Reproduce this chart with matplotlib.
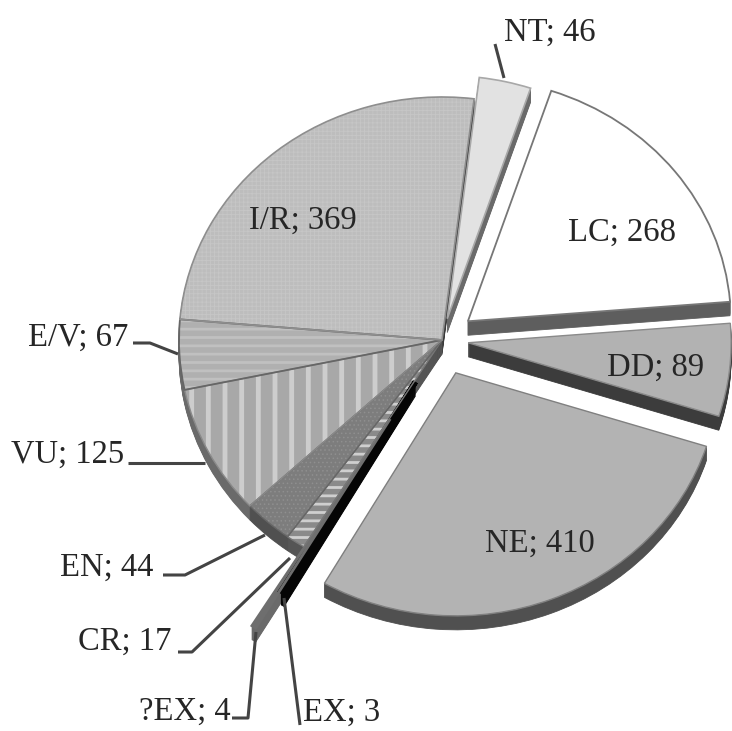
import matplotlib
matplotlib.use("Agg")
import matplotlib.pyplot as plt

categories = ["NT", "LC", "DD", "NE", "EX", "?EX", "CR", "EN", "VU", "E/V", "I/R"]
counts = [46, 268, 89, 410, 3, 4, 17, 44, 125, 67, 369]
explode = [0.09, 0.125, 0.10, 0.145, 0.20, 0.38, 0, 0, 0, 0, 0]

top_colors = ["#e2e2e2", "#ffffff", "#b2b2b2", "#b3b3b3", "#050505", "#6e6e6e",
              "#8a8a8a", "#7d7d7d", "#a8a8a8", "#b0b0b0", "#bdbdbd"]
side_colors = ["#6a6a6a", "#5e5e5e", "#3c3c3c", "#505050", "#050505", "#6a6a6a",
               "#555555", "#505050", "#6a6a6a", "#6a6a6a", "#3a3a3a"]
hatches = [None, None, None, None, None, None, "--", "....", "|", "--", "++++"]
hatch_colors = ["#e2e2e2", "#ffffff", "#b2b2b2", "#b3b3b3", "#050505", "#6e6e6e",
                "#cfcfcf", "#8f8f8f", "#cdcdcd", "#c0c0c0", "#c6c6c6"]
edge_colors = ["#a8a8a8", "#777777", "#8a8a8a", "#808080", "#050505", "#6e6e6e",
               "#777777", "#666666", "#8a8a8a", "#666666", "#8e8e8e"]
edge_widths = [1.2, 1.3, 1.0, 1.0, 4.0, 2.0, 1.0, 1.0, 1.0, 1.3, 1.2]

W, H = 732, 731
CX, CY, RX, RY = 442, 340, 263, 243
DEPTH_PX = 14

plt.rcParams["font.family"] = ["Liberation Serif", "DejaVu Serif"]
fig = plt.figure(figsize=(W / 100, H / 100), dpi=100)
ax = fig.add_axes([0, 0, 1, 1])


def px(x, y):
    return (x - CX) / RX, (CY - y) / RY


pie_kw = dict(explode=explode, startangle=83, counterclock=False, radius=1)

# extruded sides
for k in range(DEPTH_PX, 0, -1):
    ax.pie(counts, colors=side_colors, center=(0, -k / RY),
           wedgeprops=dict(linewidth=0.6, edgecolor="none"), **pie_kw)
    for w, c in zip(ax.patches[-len(counts):], side_colors):
        w.set_edgecolor(c)

# top faces with fill patterns
wedges, _ = ax.pie(counts, colors=top_colors, hatch=hatches,
                   wedgeprops=dict(linewidth=0), **pie_kw)
for w, hc, h in zip(wedges, hatch_colors, hatches):
    w.set_edgecolor(hc)
    w.set_linewidth(0)
    if h == "|":
        w.set_hatch_linewidth(3.5)
    elif h == "--":
        w.set_hatch_linewidth(2)
    else:
        w.set_hatch_linewidth(0.6)

# outlines of top faces
outlines, _ = ax.pie(counts, colors=["none"] * len(counts),
                     wedgeprops=dict(linewidth=1.2, fill=False), **pie_kw)
for w, ec, lw in zip(outlines, edge_colors, edge_widths):
    w.set_edgecolor(ec)
    w.set_linewidth(lw)

ax.set_aspect("auto")
ax.set_xlim(px(0, 0)[0], px(W, 0)[0])
ax.set_ylim(px(0, H)[1], px(0, 0)[1])
ax.axis("off")

label_pos = {
    "NT": (550, 33), "LC": (622, 233), "DD": (656, 368), "NE": (540, 544),
    "I/R": (303, 221), "E/V": (78, 338), "VU": (68, 455), "EN": (107, 568),
    "CR": (125, 642), "?EX": (185, 712), "EX": (342, 713),
}
for c, v in zip(categories, counts):
    x, y = px(*label_pos[c])
    ax.text(x, y, f"{c}; {v}", ha="center", va="center", fontsize=23.5,
            color="#262626", zorder=10)

leaders = [
    [(504, 78), (495, 44)],
    [(133, 343), (150, 343), (178, 354)],
    [(128, 463), (205, 463)],
    [(163, 575), (185, 575), (265, 535)],
    [(178, 652), (192, 652), (290, 558)],
    [(232, 718), (248, 718), (256, 632)],
    [(300, 725), (284, 598)],
]
for line in leaders:
    pts = [px(*p) for p in line]
    ax.plot([p[0] for p in pts], [p[1] for p in pts], color="#444444",
            lw=2.2, zorder=9, solid_capstyle="butt")

fig.savefig("out.png", dpi=100, facecolor="white")
